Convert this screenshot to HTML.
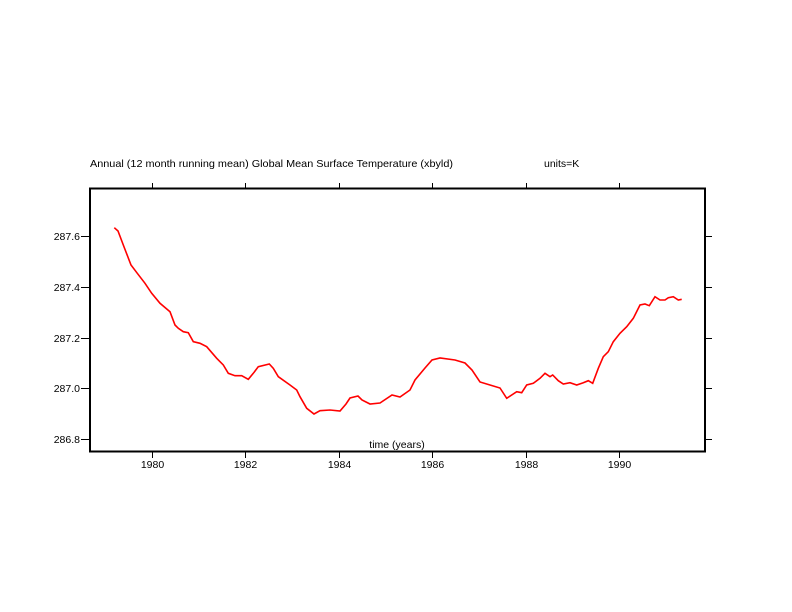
<!DOCTYPE html>
<html><head><style>
html,body{margin:0;padding:0;background:#fff;}
svg{display:block;}
text{font-family:"Liberation Sans",sans-serif;font-size:10.5px;fill:#000;}
</style></head><body>
<svg width="792" height="612" viewBox="0 0 792 612">
<text x="90" y="167" textLength="363" lengthAdjust="spacingAndGlyphs">Annual (12 month running mean) Global Mean Surface Temperature (xbyld)</text>
<text x="544" y="167">units=K</text>
<rect x="90" y="188.5" width="615" height="263" fill="none" stroke="#000" stroke-width="2"/>
<g stroke="#000" stroke-width="1">
<line x1="152.5" y1="183" x2="152.5" y2="188"/><line x1="245.5" y1="183" x2="245.5" y2="188"/>
<line x1="339.5" y1="183" x2="339.5" y2="188"/><line x1="432.5" y1="183" x2="432.5" y2="188"/>
<line x1="526.5" y1="183" x2="526.5" y2="188"/><line x1="619.5" y1="183" x2="619.5" y2="188"/>
<line x1="152.5" y1="452" x2="152.5" y2="458"/><line x1="245.5" y1="452" x2="245.5" y2="458"/>
<line x1="339.5" y1="452" x2="339.5" y2="458"/><line x1="432.5" y1="452" x2="432.5" y2="458"/>
<line x1="526.5" y1="452" x2="526.5" y2="458"/><line x1="619.5" y1="452" x2="619.5" y2="458"/>
<line x1="81" y1="236.5" x2="90" y2="236.5"/><line x1="81" y1="287.5" x2="90" y2="287.5"/>
<line x1="81" y1="338.5" x2="90" y2="338.5"/><line x1="81" y1="388.5" x2="90" y2="388.5"/>
<line x1="81" y1="439.5" x2="90" y2="439.5"/>
<line x1="705" y1="236.5" x2="712" y2="236.5"/><line x1="705" y1="287.5" x2="712" y2="287.5"/>
<line x1="705" y1="338.5" x2="712" y2="338.5"/><line x1="705" y1="388.5" x2="712" y2="388.5"/>
<line x1="705" y1="439.5" x2="712" y2="439.5"/>
</g>
<g text-anchor="end">
<text x="80" y="240">287.6</text><text x="80" y="291">287.4</text><text x="80" y="342">287.2</text>
<text x="80" y="392">287.0</text><text x="80" y="443">286.8</text>
</g>
<g text-anchor="middle">
<text x="152.5" y="468">1980</text><text x="245.5" y="468">1982</text><text x="339.5" y="468">1984</text>
<text x="432.5" y="468">1986</text><text x="526.5" y="468">1988</text><text x="619.5" y="468">1990</text>
<text x="397" y="448">time (years)</text>
</g>
<polyline fill="none" stroke="#f00" stroke-width="1.6" points="114.3,227.7 118,231 123.3,245 131,265 137.3,273.3 145,283.3 151.7,293.3 160,303.3 170,311.7 175,325 178.3,328.3 183.3,331.7 188.3,332.7 193.3,341.7 200,343.3 206.7,346.7 216.7,358.3 223.3,365 228.3,373.3 235,375.7 241.7,375.7 248.3,379.3 253.3,373.3 258.3,366.7 269.3,364 273.3,368.3 278.3,376.7 290,385 296.7,390 300,396.7 306.7,408.3 314,414 320,410.7 330,410 340,411 346,404 350,398 358,396 362,400 370,404 380,403 392,395 400,397 410,390 415,380 425,368 432,360 440,358 455,360 465,363 472,370 480,382 490,385 500,388 506.7,398.3 516.7,391.7 521.7,392.7 526.7,385 533.3,383.3 540,378.3 545,373.3 550,376.7 552.7,375 558.3,380.7 563.3,384 570,382.7 576.7,385 583.3,382.7 588.3,380.7 592.7,383.3 598.3,368.3 603.3,356.7 608.3,351.7 613.3,341.7 620,333.3 626.7,326.7 633.3,318.3 640,305 645,304 649.3,305.7 655,296.7 660,300 665,300 668.3,297.7 673.3,296.7 678.3,300 681.7,299.3"/>
</svg>
</body></html>
